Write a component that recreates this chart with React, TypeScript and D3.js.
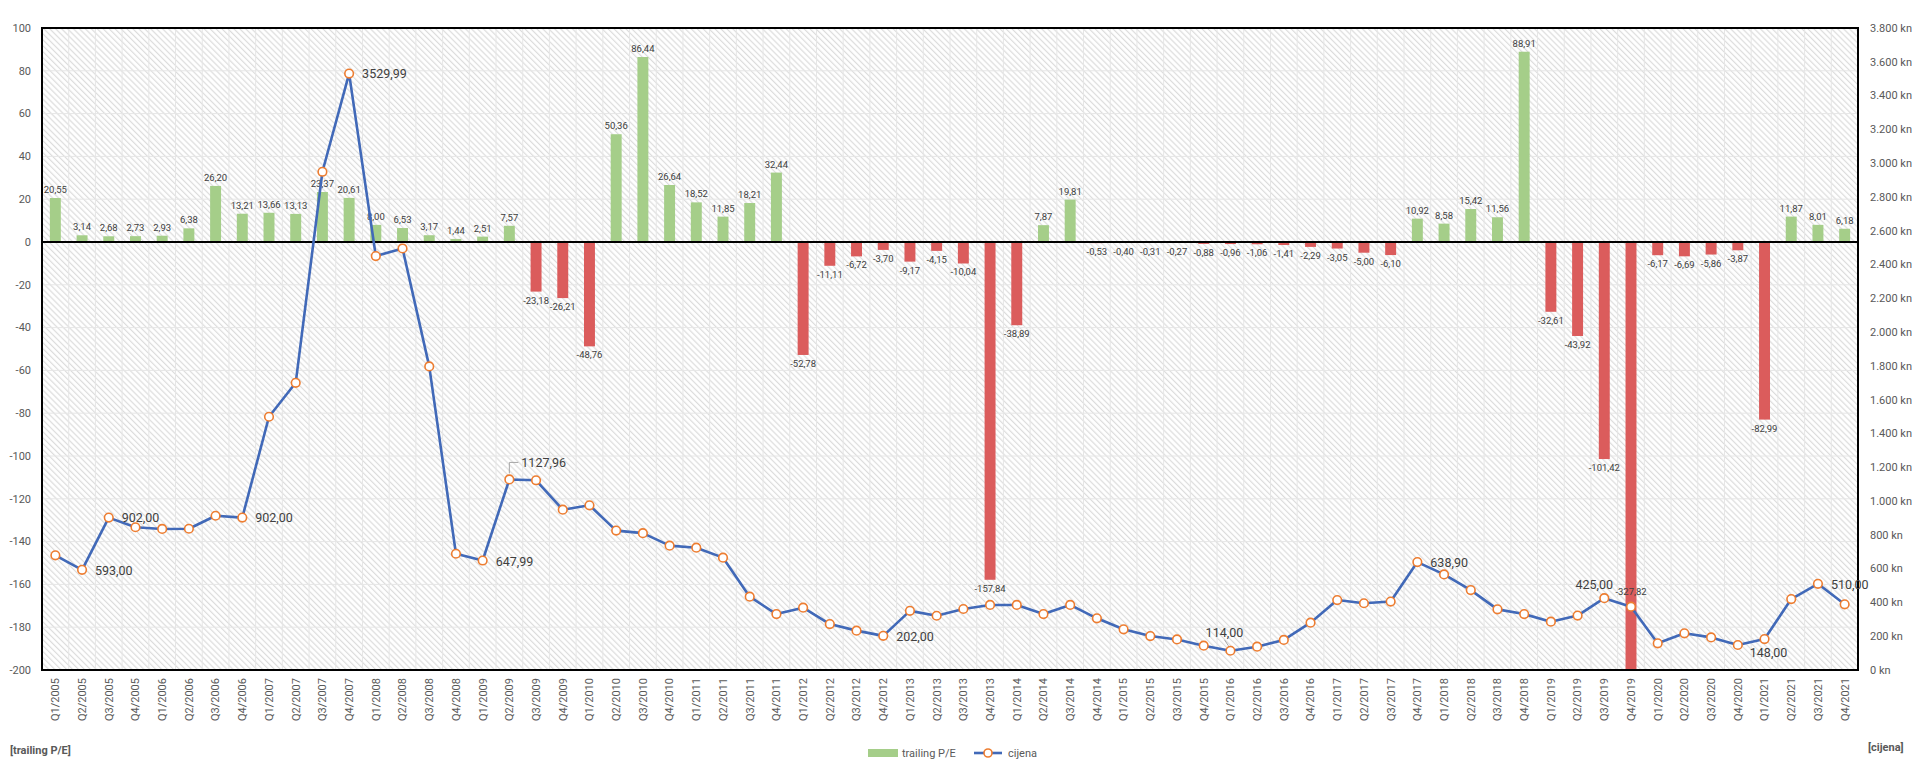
import React, { useRef, useEffect } from "react";
import * as d3 from "d3";

const width = 1920;
const height = 771;
const margin = { top: 28, right: 62, bottom: 101, left: 42 };

// categories: quarters from Q1/2005 to Q4/2021
const years = d3.range(2005, 2022);
const quarters = ["Q1", "Q2", "Q3", "Q4"];
const categories = years.flatMap(y => quarters.map(q => `${q}/${y}`));

// trailing P/E per quarter
const pe = [
  20.55, 3.14, 2.68, 2.73,
  2.93, 6.38, 26.2, 13.21,
  13.66, 13.13, 23.37, 20.61,
  8.0, 6.53, 3.17, 1.44,
  2.51, 7.57, -23.18, -26.21,
  -48.76, 50.36, 86.44, 26.64,
  18.52, 11.85, 18.21, 32.44,
  -52.78, -11.11, -6.72, -3.7,
  -9.17, -4.15, -10.04, -157.84,
  -38.89, 7.87, 19.81, -0.53,
  -0.4, -0.31, -0.27, -0.88,
  -0.96, -1.06, -1.41, -2.29,
  -3.05, -5.0, -6.1, 10.92,
  8.58, 15.42, 11.56, 88.91,
  -32.61, -43.92, -101.42, -327.82,
  -6.17, -6.69, -5.86, -3.87,
  -82.99, 11.87, 8.01, 6.18
];

// cijena (kn) per quarter
const price = [
  679, 593, 902, 845,
  835, 836, 913, 902,
  1499, 1700, 2949, 3529.99,
  2450, 2495, 1797, 688,
  647.99, 1127.96, 1123, 949,
  975, 825, 810, 736,
  724, 665, 434, 331,
  369, 272, 233, 202,
  350, 321, 361, 385,
  385, 331, 385, 306,
  241, 201, 181, 144,
  114, 138, 178, 280,
  414, 395, 405, 638.9,
  566, 473, 359, 331,
  286, 322, 425, 375,
  158, 217, 193, 148,
  183, 420, 510, 389
];

const peTicks = d3.range(-200, 101, 20);
const priceTicks = d3.range(0, 3801, 200);

// which price points get a label, and where it sits relative to the marker
const priceLabels = [
  { i: 1, dx: 13, dy: 1, anchor: "start" },
  { i: 2, dx: 13, dy: 0, anchor: "start" },
  { i: 7, dx: 13, dy: 0, anchor: "start" },
  { i: 11, dx: 13, dy: 0, anchor: "start" },
  { i: 16, dx: 13, dy: 1, anchor: "start" },
  { i: 17, dx: 12, dy: -17, anchor: "start", leader: "elbow" },
  { i: 31, dx: 13, dy: 1, anchor: "start" },
  { i: 44, dx: -6, dy: -18, anchor: "middle", leader: "diag" },
  { i: 51, dx: 13, dy: 1, anchor: "start" },
  { i: 58, dx: -10, dy: -14, anchor: "middle" },
  { i: 63, dx: 12, dy: 8, anchor: "start" },
  { i: 66, dx: 13, dy: 1, anchor: "start" }
];

const font = "Roboto, 'Noto Sans', sans-serif";
const textColor = "#595959";
const green = "#a5ce89";
const red = "#db5c5c";
const blue = "#4169b8";
const orange = "#ed7d31";

const fmtNum = (v: number) => d3.format(".2f")(v).replace(".", ",").replace("\u2212", "-");
const fmtKn = (v: number) => d3.format(",")(v).replace(/,/g, ".") + " kn";

export default function PriceEarningsChart() {
  const svgRef = useRef<SVGSVGElement>(null);

  useEffect(() => {
    if (!svgRef.current) return;
    const svg = d3.select(svgRef.current);
    svg.selectAll("*").remove();

    const x0 = margin.left;
    const x1 = width - margin.right;
    const y0 = margin.top;
    const y1 = height - margin.bottom;

    const x = d3.scaleBand<string>()
      .domain(categories)
      .range([x0, x1])
      .paddingInner(0.59)
      .paddingOuter(0.295);
    const cx = (c: string) => (x(c) as number) + x.bandwidth() / 2;
    const yL = d3.scaleLinear().domain([-200, 100]).range([y1, y0]);
    const yR = d3.scaleLinear().domain([0, 3800]).range([y1, y0]);

    svg.attr("width", width).attr("height", height)
      .style("font-family", font);

    const defs = svg.append("defs");
    const pat = defs.append("pattern")
      .attr("id", "hatch")
      .attr("patternUnits", "userSpaceOnUse")
      .attr("width", 10)
      .attr("height", 4.2)
      .attr("patternTransform", "rotate(45)");
    pat.append("rect").attr("width", 10).attr("height", 4.2).attr("fill", "#ffffff");
    pat.append("line")
      .attr("x1", 0).attr("x2", 10).attr("y1", 2).attr("y2", 2)
      .attr("stroke", "#dcdcdc").attr("stroke-width", 1.2);

    defs.append("clipPath").attr("id", "plot-clip")
      .append("rect")
      .attr("x", x0).attr("y", y0)
      .attr("width", x1 - x0).attr("height", y1 - y0);

    svg.append("rect")
      .attr("width", width).attr("height", height).attr("fill", "#ffffff");

    // plot background
    svg.append("rect")
      .attr("x", x0).attr("y", y0)
      .attr("width", x1 - x0).attr("height", y1 - y0)
      .attr("fill", "url(#hatch)");

    // gridlines
    const step = x.step();
    svg.append("g")
      .selectAll("line")
      .data(categories.slice(1))
      .join("line")
      .attr("x1", d => cx(d) - step / 2)
      .attr("x2", d => cx(d) - step / 2)
      .attr("y1", y0).attr("y2", y1)
      .attr("stroke", "#e6e6e6").attr("stroke-width", 1);

    svg.append("g")
      .selectAll("line")
      .data(peTicks)
      .join("line")
      .attr("x1", x0).attr("x2", x1)
      .attr("y1", d => yL(d)).attr("y2", d => yL(d))
      .attr("stroke", "#e6e6e6").attr("stroke-width", 1);

    // bars
    svg.append("g")
      .attr("clip-path", "url(#plot-clip)")
      .selectAll("rect")
      .data(pe)
      .join("rect")
      .attr("x", (_, i) => x(categories[i]) as number)
      .attr("width", x.bandwidth())
      .attr("y", d => yL(Math.max(0, d)))
      .attr("height", d => Math.abs(yL(d) - yL(0)))
      .attr("fill", d => (d >= 0 ? green : red));

    // bar labels
    svg.append("g")
      .selectAll("text")
      .data(pe)
      .join("text")
      .attr("x", (_, i) => cx(categories[i]))
      .attr("y", d => (d >= 0 ? yL(d) - 5 : Math.min(yL(d) + 12, yL(-165))))
      .attr("text-anchor", "middle")
      .attr("font-size", 9.5)
      .attr("fill", "#404040")
      .text(d => fmtNum(d));

    // zero line + frame
    svg.append("line")
      .attr("x1", x0).attr("x2", x1)
      .attr("y1", yL(0)).attr("y2", yL(0))
      .attr("stroke", "#000").attr("stroke-width", 2);
    svg.append("rect")
      .attr("x", x0).attr("y", y0)
      .attr("width", x1 - x0).attr("height", y1 - y0)
      .attr("fill", "none")
      .attr("stroke", "#000").attr("stroke-width", 2);

    // price line
    const line = d3.line<number>()
      .x((_, i) => cx(categories[i]))
      .y(d => yR(d));
    svg.append("path")
      .datum(price)
      .attr("d", line)
      .attr("fill", "none")
      .attr("stroke", blue)
      .attr("stroke-width", 2.6)
      .attr("stroke-linejoin", "round");

    svg.append("g")
      .selectAll("circle")
      .data(price)
      .join("circle")
      .attr("cx", (_, i) => cx(categories[i]))
      .attr("cy", d => yR(d))
      .attr("r", 4.3)
      .attr("fill", "#fff")
      .attr("stroke", orange)
      .attr("stroke-width", 1.6);

    // price labels
    const pl = svg.append("g");
    priceLabels.forEach(p => {
      const px = cx(categories[p.i]);
      const py = yR(price[p.i]);
      if (p.leader === "elbow") {
        pl.append("path")
          .attr("d", `M${px},${py - 6}V${py + p.dy}H${px + p.dx - 3}`)
          .attr("fill", "none").attr("stroke", "#a6a6a6").attr("stroke-width", 1);
      } else if (p.leader === "diag") {
        pl.append("path")
          .attr("d", `M${px - 2},${py - 5}L${px + p.dx},${py + p.dy + 7}`)
          .attr("fill", "none").attr("stroke", "#a6a6a6").attr("stroke-width", 1);
      }
      pl.append("text")
        .attr("x", px + p.dx)
        .attr("y", py + p.dy)
        .attr("dy", "0.35em")
        .attr("text-anchor", p.anchor)
        .attr("font-size", 12.5)
        .attr("fill", "#404040")
        .text(fmtNum(price[p.i]));
    });

    // left axis
    svg.append("g")
      .selectAll("text")
      .data(peTicks)
      .join("text")
      .attr("x", x0 - 11)
      .attr("y", d => yL(d))
      .attr("dy", "0.35em")
      .attr("text-anchor", "end")
      .attr("font-size", 11)
      .attr("fill", textColor)
      .text(d => String(d));

    // right axis
    svg.append("g")
      .selectAll("text")
      .data(priceTicks)
      .join("text")
      .attr("x", x1 + 12)
      .attr("y", d => yR(d))
      .attr("dy", "0.35em")
      .attr("text-anchor", "start")
      .attr("font-size", 11)
      .attr("fill", textColor)
      .text(d => fmtKn(d));

    // category labels
    svg.append("g")
      .selectAll("text")
      .data(categories)
      .join("text")
      .attr("transform", d => `translate(${cx(d)},${y1 + 8}) rotate(-90)`)
      .attr("dy", "0.35em")
      .attr("text-anchor", "end")
      .attr("font-size", 11)
      .attr("fill", textColor)
      .text(d => d);

    // axis titles
    svg.append("text")
      .attr("x", 10).attr("y", 754)
      .attr("font-size", 11).attr("font-weight", "bold")
      .attr("fill", textColor)
      .text("[trailing P/E]");
    svg.append("text")
      .attr("x", 1868).attr("y", 751)
      .attr("font-size", 11).attr("font-weight", "bold")
      .attr("fill", textColor)
      .text("[cijena]");

    // legend
    const lg = svg.append("g").attr("transform", "translate(868,753)");
    lg.append("rect").attr("x", 0).attr("y", -4).attr("width", 30).attr("height", 8).attr("fill", green);
    lg.append("text").attr("x", 34).attr("y", 0).attr("dy", "0.35em")
      .attr("font-size", 11).attr("fill", textColor).text("trailing P/E");
    lg.append("line").attr("x1", 106).attr("x2", 134).attr("y1", 0).attr("y2", 0)
      .attr("stroke", blue).attr("stroke-width", 2.6);
    lg.append("circle").attr("cx", 120).attr("cy", 0).attr("r", 4)
      .attr("fill", "#fff").attr("stroke", orange).attr("stroke-width", 1.6);
    lg.append("text").attr("x", 140).attr("y", 0).attr("dy", "0.35em")
      .attr("font-size", 11).attr("fill", textColor).text("cijena");
  }, []);

  return (
    <svg
      ref={svgRef}
      style={{ position: "absolute", left: 0, top: 0, display: "block" }}
    ></svg>
  );
}
